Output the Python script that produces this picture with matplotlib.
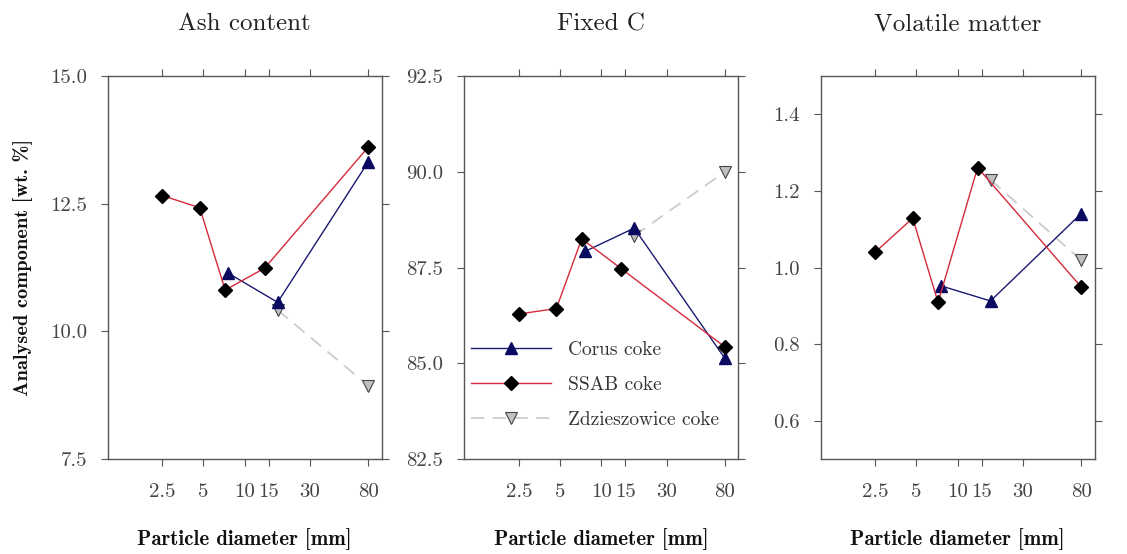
import matplotlib
matplotlib.use("Agg")
import matplotlib.pyplot as plt

# particle diameter [mm] (midpoints of the size fractions)
x_ssab = [2.5, 4.7, 7.2, 14.0, 80]
x_corus = [7.6, 17.4, 80]
x_zdz = [17.4, 80]

# Ash content
ash_ssab = [12.66, 12.42, 10.81, 11.24, 13.61]
ash_corus = [11.14, 10.57, 13.32]
ash_zdz = [10.42, 8.94]

# Fixed C
fc_ssab = [86.29, 86.43, 88.25, 87.47, 85.43]
fc_corus = [87.92, 88.53, 85.13]
fc_zdz = [88.33, 90.0]

# Volatile matter
vm_ssab = [1.04, 1.129, 0.909, 1.261, 0.949]
vm_corus = [0.952, 0.913, 1.141]
vm_zdz = [1.229, 1.019]

titles = ["Ash content", "Fixed C", "Volatile matter"]
ylims = [(7.5, 15.0), (82.5, 92.5), (0.5, 1.5)]
yticks = [[7.5, 10.0, 12.5, 15.0], [82.5, 85.0, 87.5, 90.0, 92.5], [0.6, 0.8, 1.0, 1.2, 1.4]]
xtick_vals = [2.5, 5, 10, 15, 30, 80]
xtick_labels = ["2.5", "5", "10", "15", "30", "80"]

panels = [(ash_ssab, ash_corus, ash_zdz),
          (fc_ssab, fc_corus, fc_zdz),
          (vm_ssab, vm_corus, vm_zdz)]

plt.rcParams['font.family'] = ['cmr10', 'DejaVu Serif']
plt.rcParams['axes.formatter.use_mathtext'] = True

fig = plt.figure(figsize=(11.27, 5.54), dpi=100)
lefts = [0.0956, 0.412, 0.7282]
tc = '#444444'

for i, (ssab, corus, zdz) in enumerate(panels):
    ax = fig.add_axes([lefts[i], 0.171, 0.243, 0.692])
    ax.set_xscale('log')
    ax.plot(x_zdz, zdz, color='#c8c8c8', lw=1.2, dashes=(8, 5), marker='v',
            ms=8, mfc='#c0c0c0', mec='#444444', mew=0.8, label='Zdzieszowice coke', zorder=2)
    ax.plot(x_corus, corus, color='#1a1a70', lw=1, marker='^', ms=8,
            mfc='#0a0a60', mec='#0a0a60', label='Corus coke', zorder=3)
    ax.plot(x_ssab, ssab, color='#d42a3c', lw=1, marker='D', ms=7.5,
            mfc='black', mec='black', label='SSAB coke', zorder=4)
    ax.set_xlim(1.0, 100)
    ax.set_ylim(*ylims[i])
    ax.set_xticks(xtick_vals)
    ax.set_xticklabels(xtick_labels)
    ax.minorticks_off()
    ax.set_yticks(yticks[i])
    ax.set_yticklabels(["%.1f" % v for v in yticks[i]])
    ax.tick_params(direction='out', length=5, width=0.8, color='#555555',
                   top=True, right=True, labelsize=15, labelcolor=tc)
    ax.tick_params(axis='x', pad=12)
    ax.tick_params(axis='y', pad=10)
    for s in ax.spines.values():
        s.set_color('#555555')
        s.set_linewidth(1.0)
    ax.set_title(titles[i], fontsize=18, pad=33, color='#222222')
    ax.set_xlabel('Particle diameter [mm]', fontfamily='cmb10', fontsize=15,
                  labelpad=20, color='#111111')
    if i == 0:
        ax.set_ylabel('Analysed component [wt. %]', fontfamily='cmb10', fontsize=14.7,
                      labelpad=12, color='#111111')
    if i == 1:
        h, l = ax.get_legend_handles_labels()
        order = [1, 2, 0]
        ax.legend([h[k] for k in order], [l[k] for k in order], loc='upper left',
                  bbox_to_anchor=(-0.04, 0.355), frameon=False, fontsize=14,
                  handlelength=4.1, labelspacing=0.88, handletextpad=0.9,
                  labelcolor='#333333')

fig.savefig('out.png', dpi=100)
